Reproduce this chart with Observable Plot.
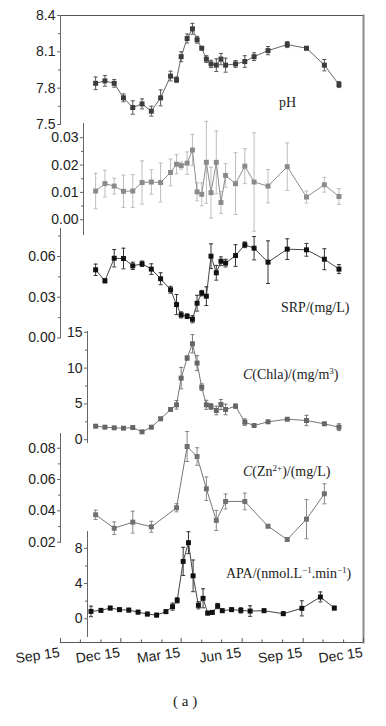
<!DOCTYPE html>
<html><head><meta charset="utf-8">
<script src="https://cdn.jsdelivr.net/npm/d3@7"></script>
<script src="https://cdn.jsdelivr.net/npm/@observablehq/plot@0.6"></script>
<style>
body{margin:0;background:#fff;}
#chart{position:relative;width:386px;height:726px;overflow:hidden;}
.lab{position:absolute;font-family:'Liberation Serif','Times New Roman',serif;font-size:14px;line-height:14px;color:#222;white-space:nowrap;}
.lab sup{font-size:9px;vertical-align:5px;line-height:0;}
.cap{position:absolute;font-family:'Liberation Serif','Times New Roman',serif;font-size:15px;color:#222;white-space:nowrap;}
</style></head><body><div id="chart"></div>
<script>
// ---- shared x axis ----
const xStart = "2015-09-15", xEnd = "2016-12-15";
const majorTicks = ["2015-09-15","2015-12-15","2016-03-15","2016-06-15","2016-09-15","2016-12-15"];
const minorTicks = ["2015-10-15","2015-11-15","2016-01-15","2016-02-15","2016-04-15","2016-05-15","2016-07-15","2016-08-15","2016-10-15","2016-11-15"];

// ---- sampling dates ----
const dates = ["2015-11-07","2015-11-21","2015-12-05","2015-12-19","2016-01-02","2016-01-16","2016-01-30","2016-02-13","2016-02-28","2016-03-08","2016-03-15","2016-03-24","2016-04-01","2016-04-08","2016-04-15","2016-04-22","2016-04-29","2016-05-07","2016-05-14","2016-05-21","2016-06-05","2016-06-19","2016-07-03","2016-07-24","2016-08-22","2016-09-20","2016-10-17","2016-11-08"];
const datesZn = ["2015-11-07","2015-12-05","2016-01-02","2016-01-30","2016-03-08","2016-03-24","2016-04-08","2016-04-22","2016-05-07","2016-05-21","2016-06-19","2016-07-24","2016-08-22","2016-09-20","2016-10-17"];
const datesAPA = ["2015-10-31","2015-11-15","2015-11-29","2015-12-13","2015-12-27","2016-01-10","2016-01-24","2016-02-07","2016-02-21","2016-03-02","2016-03-09","2016-03-18","2016-03-26","2016-04-02","2016-04-10","2016-04-17","2016-04-24","2016-05-01","2016-05-09","2016-05-16","2016-05-30","2016-06-13","2016-06-27","2016-07-18","2016-08-16","2016-09-13","2016-10-11","2016-11-01"];

// ---- series ----
const pH = [7.84,7.86,7.84,7.72,7.64,7.67,7.61,7.72,7.90,7.87,8.06,8.21,8.29,8.20,8.13,8.04,8.00,7.99,8.04,7.99,8.00,8.02,8.06,8.11,8.16,8.13,7.99,7.83];
const pHErr = [0.052,0.044,0.032,0.032,0.055,0.041,0.041,0.066,0.04,0.023,0.041,0.037,0.045,0.028,0.014,0.028,0.03,0.052,0.047,0.058,0.028,0.048,0.032,0.034,0.025,0.014,0.047,0.025];

const tp = [0.0105,0.0132,0.0123,0.0104,0.0105,0.0136,0.0138,0.0136,0.0173,0.0203,0.0198,0.0207,0.0255,0.0102,0.0093,0.0210,0.0099,0.0210,0.0063,0.0162,0.0132,0.0196,0.0138,0.0123,0.0194,0.0083,0.0128,0.0085];
const tpErr = [0.0065,0.0049,0.0029,0.0059,0.0060,0.0079,0.0045,0.0071,0.0049,0.0035,0.0013,0.0041,0.0057,0.0033,0.0042,0.0150,0.0093,0.0115,0.0040,0.0043,0.0113,0.0064,0.0180,0.0061,0.0087,0.0022,0.0027,0.0029];

const srp = [0.0502,0.0421,0.0587,0.0585,0.0531,0.0546,0.0507,0.0436,0.0355,0.0246,0.0170,0.0160,0.0138,0.0256,0.0330,0.0308,0.0602,0.0480,0.0565,0.0551,0.0607,0.0686,0.0661,0.0558,0.0654,0.0649,0.0580,0.0507];
const srpErr = [0.0042,0.0015,0.0064,0.0076,0.0027,0.0020,0.0039,0.0044,0.0025,0.0074,0.0022,0.0017,0.0026,0.0058,0.0020,0.0069,0.0091,0.0054,0.0032,0.0028,0.0080,0.0021,0.0086,0.0157,0.0076,0.0047,0.0077,0.0033];

const chla = [1.89,1.75,1.66,1.61,1.70,1.10,1.75,2.92,4.22,4.87,8.6,11.4,13.4,10.7,7.33,4.87,4.64,4.08,4.92,4.22,4.68,2.45,1.98,2.5,2.86,2.68,2.22,1.75];
const chlaErr = [0.2,0.15,0.15,0.15,0.15,0.15,0.2,0.2,0.2,0.6,1.5,0.3,1.28,1.05,0.47,0.63,0.4,0.6,0.7,0.74,0.3,0.45,0.2,0.2,0.2,0.72,0.2,0.47];

const zn = [0.0375,0.0289,0.0328,0.0298,0.0420,0.0811,0.0747,0.0541,0.0339,0.0460,0.0460,0.0302,0.0217,0.0347,0.0509];
const znErr = [0.0030,0.0040,0.0070,0.0035,0.0026,0.0096,0.0056,0.0075,0.0064,0.0048,0.0053,0.0010,0,0.0125,0.0064];

const apa = [0.83,0.95,1.21,1.03,0.98,0.75,0.53,0.41,0.80,1.37,2.09,6.51,8.64,4.87,1.52,2.32,0.64,0.72,1.44,0.91,1.03,0.95,0.87,0.91,0.57,1.18,2.47,1.21];
const apaErr = [0.6,0.2,0.2,0.2,0.2,0.2,0.2,0.2,0.2,0.4,0.3,1.6,1.24,1.8,0.4,1.08,0.2,0.2,0.3,0.2,0.2,0.3,0.6,0.2,0.2,0.86,0.57,0.2];

// ---- build ----
const W = 386, X_RANGE = [60, 363];
const xDomain = [new Date(xStart), new Date(xEnd)];
const chart = document.getElementById("chart");
const baseStyle = {fontFamily: "'Liberation Sans', Arial, sans-serif", fontSize: "14px", background: "none", overflow: "visible", position: "absolute", left: "0px", color: "#222"};
const capSym = {draw(ctx, size) { const r = Math.sqrt(size / Math.PI); ctx.moveTo(-r, 0); ctx.lineTo(r, 0); }};
const rows = (ds, vs, es) => ds.map((d, i) => ({date: new Date(d), v: vs[i], e: es[i]}));

const base = Plot.plot({
  width: W, height: 680, marginTop: 15, marginBottom: 38, marginLeft: 60, marginRight: 23,
  style: {...baseStyle, top: "0px"},
  x: {type: "utc", domain: xDomain, label: null},
  marks: [
    Plot.frame({anchor: "top", stroke: "#555"}),
    Plot.frame({anchor: "bottom", stroke: "#555"}),
    Plot.frame({anchor: "right", stroke: "#8a8a8a", strokeWidth: 2}),
    Plot.axisX({ticks: majorTicks.map(d => new Date(d)), tickSize: 4, dy: -4, fill: "none", stroke: "#555", label: null}),
    Plot.axisX({ticks: minorTicks.map(d => new Date(d)), tickSize: 2.5, dy: -2.5, fill: "none", stroke: "#555", label: null}),
    Plot.axisX({ticks: majorTicks.map(d => new Date(d)), tickFormat: "%b %d", tickSize: 0, tickPadding: 10, tickRotate: -8, textAnchor: "end", lineAnchor: "middle", dx: -1, fill: "#222", label: null})
  ]
});
chart.appendChild(base);

function panel(p) {
  const data = rows(p.dates, p.values, p.errors);
  const h = p.bottom - p.top;
  const svg = Plot.plot({
    width: W, height: h, marginTop: 0, marginBottom: 0, marginLeft: p.left, marginRight: 23,
    style: {...baseStyle, top: p.top + "px"},
    x: {type: "utc", domain: xDomain, range: X_RANGE, axis: null},
    y: {domain: p.domain, label: null},
    marks: [
      Plot.frame({anchor: "left", stroke: "#666"}),
      Plot.axisY({ticks: p.ticks, tickFormat: p.fmt, tickSize: 3, tickPadding: 2, stroke: "#666", fill: "#222", label: null}),
      Plot.axisY({ticks: p.minor, tickSize: 2, stroke: "#666", fill: "none", label: null}),
      Plot.ruleX(data, {filter: d => d.e > 0, x: "date", y1: d => d.v - d.e, y2: d => d.v + d.e, stroke: p.err, strokeWidth: 1}),
      Plot.dot(data, {filter: d => d.e > 0, x: "date", y: d => d.v + d.e, symbol: capSym, r: 2, stroke: p.err, strokeWidth: 1}),
      Plot.dot(data, {filter: d => d.e > 0, x: "date", y: d => d.v - d.e, symbol: capSym, r: 2, stroke: p.err, strokeWidth: 1}),
      Plot.line(data, {x: "date", y: "v", stroke: p.line, strokeWidth: 1}),
      Plot.dot(data, {x: "date", y: "v", symbol: "square", r: 2.8, fill: p.color, stroke: "none"})
    ]
  });
  chart.appendChild(svg);
}

panel({top: 15, bottom: 124, left: 60, domain: [7.5, 8.4], ticks: [7.5, 7.8, 8.1, 8.4], minor: [7.65, 7.95, 8.25], fmt: ".1f",
  dates, values: pH, errors: pHErr, color: "#3c3c3c", line: "#666", err: "#555"});
panel({top: 123, bottom: 234, left: 83, domain: [-0.0054, 0.0352], ticks: [0, 0.01, 0.02, 0.03], minor: [0.005, 0.015, 0.025], fmt: ".2f",
  dates, values: tp, errors: tpErr, color: "#8a8a8a", line: "#8f8f8f", err: "#bdbdbd"});
panel({top: 228, bottom: 337.5, left: 60, domain: [0, 0.0806], ticks: [0, 0.03, 0.06], minor: [0.015, 0.045, 0.075], fmt: ".2f",
  dates, values: srp, errors: srpErr, color: "#111", line: "#444", err: "#333"});
panel({top: 331, bottom: 442, left: 87, domain: [-0.39, 15.11], ticks: [0, 5, 10, 15], minor: [2.5, 7.5, 12.5], fmt: "d",
  dates, values: chla, errors: chlaErr, color: "#666", line: "#777", err: "#777"});
panel({top: 433, bottom: 542, left: 60, domain: [0.0198, 0.0894], ticks: [0.02, 0.04, 0.06, 0.08], minor: [0.03, 0.05, 0.07], fmt: ".2f",
  dates: datesZn, values: zn, errors: znErr, color: "#707070", line: "#777", err: "#888"});
panel({top: 531, bottom: 636, left: 87, domain: [-2.02, 9.91], ticks: [0, 4, 8], minor: [2, 6], fmt: "d",
  dates: datesAPA, values: apa, errors: apaErr, color: "#111", line: "#444", err: "#333"});

// ---- panel labels ----
const labels = [
  {html: "pH", left: 279, top: 96},
  {html: "SRP/(mg/L)", left: 281, top: 300.5},
  {html: "<i>C</i>(Chla)/(mg/m<sup>3</sup>)", left: 243, top: 367.5},
  {html: "<i>C</i>(Zn<sup>2+</sup>)/(mg/L)", left: 243, top: 464.5},
  {html: "APA/(nmol.L<sup>−1</sup>.min<sup>−1</sup>)", left: 226, top: 566.5}
];
for (const l of labels) {
  const d = document.createElement("div");
  d.className = "lab"; d.innerHTML = l.html;
  d.style.left = l.left + "px"; d.style.top = l.top + "px";
  chart.appendChild(d);
}
const cap = document.createElement("div");
cap.className = "cap"; cap.textContent = "( a )";
cap.style.left = "173px"; cap.style.top = "693px";
chart.appendChild(cap);
</script></body></html>
